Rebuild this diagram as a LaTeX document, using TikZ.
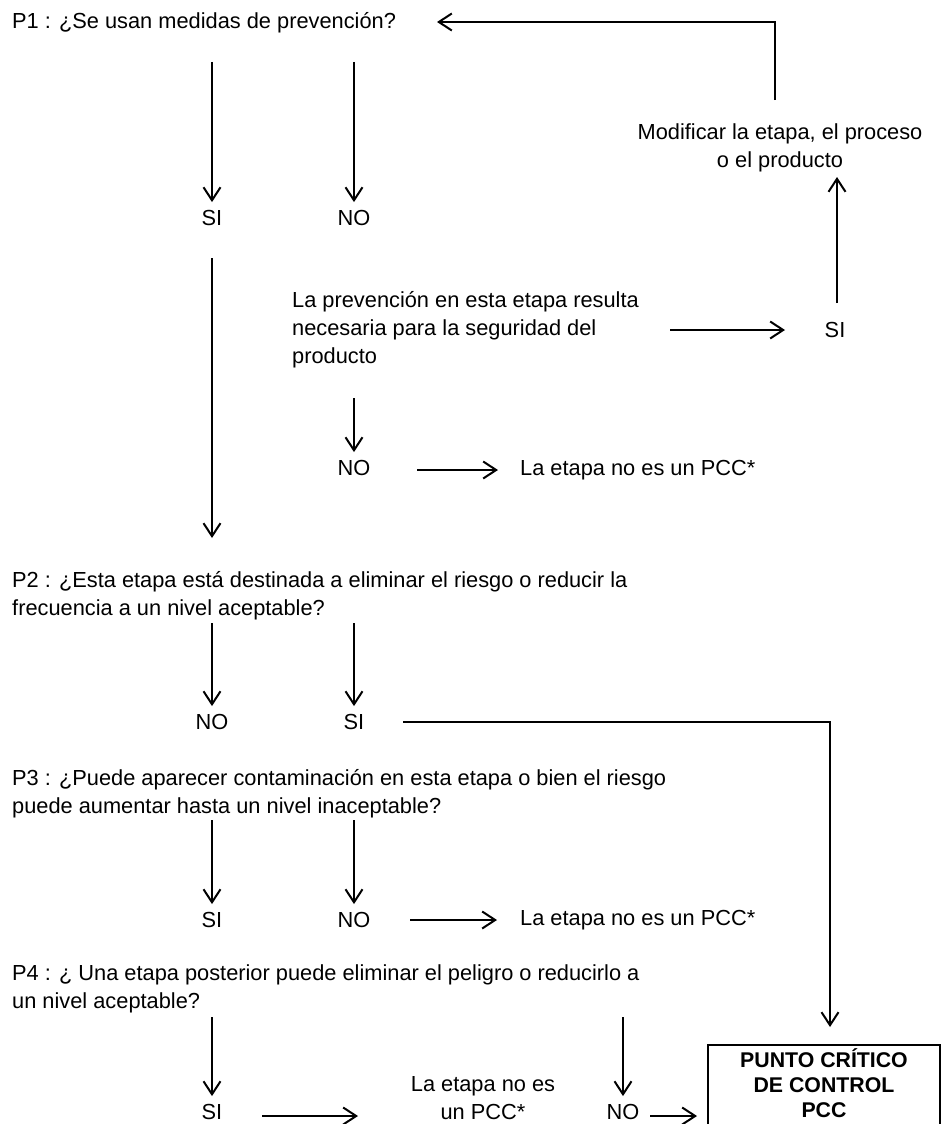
\documentclass[tikz,border=0pt]{standalone}
\usepackage{fontspec}
\setmainfont{Liberation Sans}
\usetikzlibrary{arrows.meta}

\tikzset{
  txt/.style={inner sep=0pt, anchor=west, align=left, font=\fontsize{21.8}{28}\selectfont},
  yn/.style={inner sep=0pt, font=\fontsize{21.8}{28}\selectfont},
  ln/.style={line width=2pt},
  arr/.style={ln, -{Straight Barb[length=13pt,width=17pt]}},
  tolbl/.style={arr, shorten >=8pt},
  pccbox/.style={ln, draw, minimum width=232pt, minimum height=90pt, inner sep=0pt},
  pcctxt/.style={inner sep=0pt, align=center, font=\fontsize{21.3}{25}\selectfont\bfseries},
}

\begin{document}
\begin{tikzpicture}[x=1pt,y=-1pt]
\path[use as bounding box, clip] (0,0) rectangle (943,1124);

% questions
\node[txt] (p1) at (12,23) {P1 : ¿Se usan medidas de prevención?};
\node[txt] (p2) at (12,596) {P2 : ¿Esta etapa está destinada a eliminar el riesgo o reducir la\\frecuencia a un nivel aceptable?};
\node[txt] (p3) at (12,794) {P3 : ¿Puede aparecer contaminación en esta etapa o bien el riesgo\\puede aumentar hasta un nivel inaceptable?};
\node[txt] (p4) at (12,989) {P4 : ¿ Una etapa posterior puede eliminar el peligro o reducirlo a\\un nivel aceptable?};

% other texts
\node[txt] (prev) at (292,330) {La prevención en esta etapa resulta\\necesaria para la seguridad del\\producto};
\node[yn, align=center] (modif) at (780,148) {Modificar la etapa, el proceso\\o el producto};
\node[txt] (nopcca) at (520,470) {La etapa no es un PCC*};
\node[txt] (nopccb) at (520,920) {La etapa no es un PCC*};
\node[yn, align=center] (nopccc) at (483,1098) {La etapa no es\\un PCC*};

% answers
\node[yn] (p1si) at (212,218) {SI};
\node[yn] (p1no) at (354,218) {NO};
\node[yn] (prevsi) at (835,330) {SI};
\node[yn] (prevno) at (354,468) {NO};
\node[yn] (p2no) at (212,722) {NO};
\node[yn] (p2si) at (354,722) {SI};
\node[yn] (p3si) at (212,920) {SI};
\node[yn] (p3no) at (354,920) {NO};
\node[yn] (p4si) at (212,1112) {SI};
\node[yn] (p4no) at (623,1112) {NO};

% result box
\node[pccbox] (pcc) at (824,1090) {};
\node[pcctxt] (pcclbl) at (824,1083) {PUNTO CRÍTICO\\DE CONTROL\\PCC};

% free ends
\coordinate (a1) at (212,62);
\coordinate (a2) at (354,62);
\coordinate (l1) at (212,258);
\coordinate (l2) at (212,538);
\coordinate (a3) at (354,398);
\coordinate (a4) at (212,623);
\coordinate (a5) at (354,623);
\coordinate (a6) at (212,820);
\coordinate (a7) at (354,820);
\coordinate (a8) at (212,1017);
\coordinate (a9) at (623,1017);
\coordinate (u1) at (837,303);
\coordinate (u2) at (837,177);
\coordinate (m1) at (775,100);
\coordinate (m2) at (437,22);
\coordinate (h1) at (670,330);
\coordinate (h2) at (785,330);
\coordinate (h3) at (417,470);
\coordinate (h4) at (498,470);
\coordinate (h5) at (410,920);
\coordinate (h6) at (497,920);
\coordinate (h7) at (262,1116);
\coordinate (h8) at (358,1116);
\coordinate (h9) at (650,1116);
\coordinate (h10) at (697,1116);
\coordinate (s1) at (403,722);
\coordinate (s2) at (830,1027);

% arrows into answers
\draw[tolbl] (a1) -- (p1si.north);
\draw[tolbl] (a2) -- (p1no.north);
\draw[tolbl] (a3) -- (prevno.north);
\draw[tolbl] (a4) -- (p2no.north);
\draw[tolbl] (a5) -- (p2si.north);
\draw[tolbl] (a6) -- (p3si.north);
\draw[tolbl] (a7) -- (p3no.north);
\draw[tolbl] (a8) -- (p4si.north);
\draw[tolbl] (a9) -- (p4no.north);

% other arrows
\draw[arr] (l1) -- (l2);
\draw[arr] (u1) -- (u2);
\draw[arr] (m1) |- (m2);
\draw[arr] (h1) -- (h2);
\draw[arr] (h3) -- (h4);
\draw[arr] (h5) -- (h6);
\draw[arr] (h7) -- (h8);
\draw[arr] (h9) -- (h10);
\draw[arr] (s1) -| (s2);
\end{tikzpicture}
\end{document}
